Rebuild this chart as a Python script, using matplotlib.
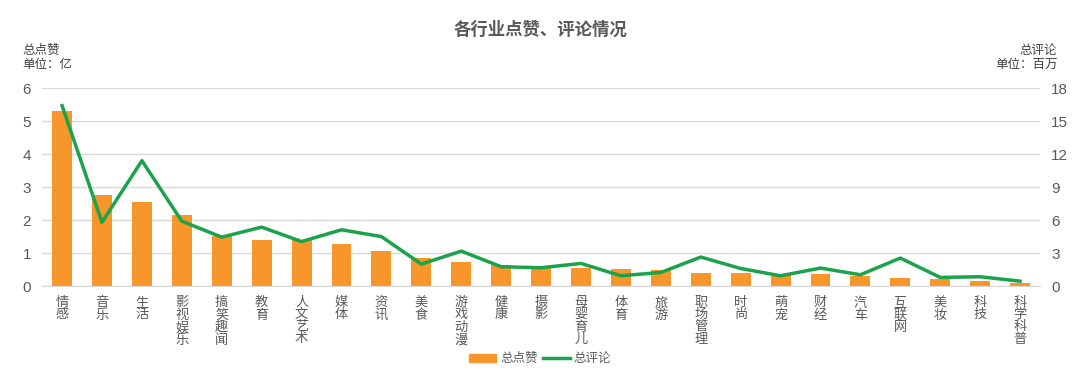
import matplotlib.pyplot as plt
import numpy as np
from matplotlib.lines import Line2D
from matplotlib.patches import Patch

plt.rcParams["font.family"] = ["Liberation Sans", "Noto Sans CJK SC", "DejaVu Sans"]

categories = ["情感", "音乐", "生活", "影视娱乐", "搞笑趣闻", "教育", "人文艺术", "媒体",
              "资讯", "美食", "游戏动漫", "健康", "摄影", "母婴育儿", "体育", "旅游",
              "职场管理", "时尚", "萌宠", "财经", "汽车", "互联网", "美妆", "科技", "科学科普"]
# 总点赞 (亿)
likes = [5.31, 2.75, 2.55, 2.14, 1.53, 1.39, 1.39, 1.27, 1.07, 0.86, 0.74, 0.64, 0.61,
         0.54, 0.51, 0.49, 0.40, 0.40, 0.33, 0.36, 0.32, 0.26, 0.21, 0.16, 0.10]
# 总评论 (百万)
comments = [16.4, 5.8, 11.4, 5.9, 4.45, 5.36, 4.05, 5.12, 4.5, 2.0, 3.18, 1.76, 1.67,
            2.06, 0.94, 1.24, 2.64, 1.6, 0.94, 1.64, 1.03, 2.55, 0.79, 0.85, 0.45]

orange = "#F7962B"
green = "#1AA34A"
grey = "#595959"

fig = plt.figure(figsize=(10.8, 3.83), dpi=100)
ax = fig.add_axes([0.039, 0.253, 0.924, 0.517])
ax2 = ax.twinx()

x = np.arange(len(categories))
ax.bar(x, likes, width=0.5, color=orange, zorder=2)
ax2.plot(x, comments, color=green, linewidth=2.5, zorder=3)

ax.set_xlim(-0.5, len(categories) - 0.5)
ax.set_ylim(0, 6)
ax2.set_ylim(0, 18)
ax.set_yticks(range(0, 7))
ax2.set_yticks(range(0, 19, 3))
ax.grid(axis="y", color="#D9D9D9", linewidth=1, zorder=0)
ax.set_axisbelow(True)

ax.set_xticks(x)
ax.set_xticklabels(["\n".join(c) for c in categories], fontsize=9.5, color=grey,
                   va="top", linespacing=1.0)

for a in (ax, ax2):
    for s in a.spines.values():
        s.set_visible(False)
    a.tick_params(length=0, labelsize=11, colors=grey)
ax.spines["bottom"].set_visible(True)
ax.spines["bottom"].set_color("#D9D9D9")
ax.tick_params(axis="y", pad=8)
ax2.tick_params(axis="y", pad=8)
ax.tick_params(axis="x", pad=8, labelsize=9.5)

fig.text(0.5, 0.925, "各行业点赞、评论情况", ha="center", va="center",
         fontsize=12.5, fontweight="bold", color=grey)
fig.text(0.021, 0.848, "总点赞\n单位：亿", ha="left", va="center", fontsize=9,
         color="#404040", linespacing=1.2)
fig.text(0.979, 0.848, "总评论\n单位：百万", ha="right", va="center", fontsize=9,
         color="#404040", linespacing=1.2, multialignment="right")

handles = [Patch(color=orange, label="总点赞"),
           Line2D([0], [0], color=green, linewidth=2.5, label="总评论")]
fig.legend(handles=handles, loc="center", bbox_to_anchor=(0.5, 0.062), ncol=2,
           frameon=False, fontsize=9, handlelength=2.2, handletextpad=0.3,
           columnspacing=0.4, labelcolor=grey)

fig.savefig("out.png", dpi=100, facecolor="white")
